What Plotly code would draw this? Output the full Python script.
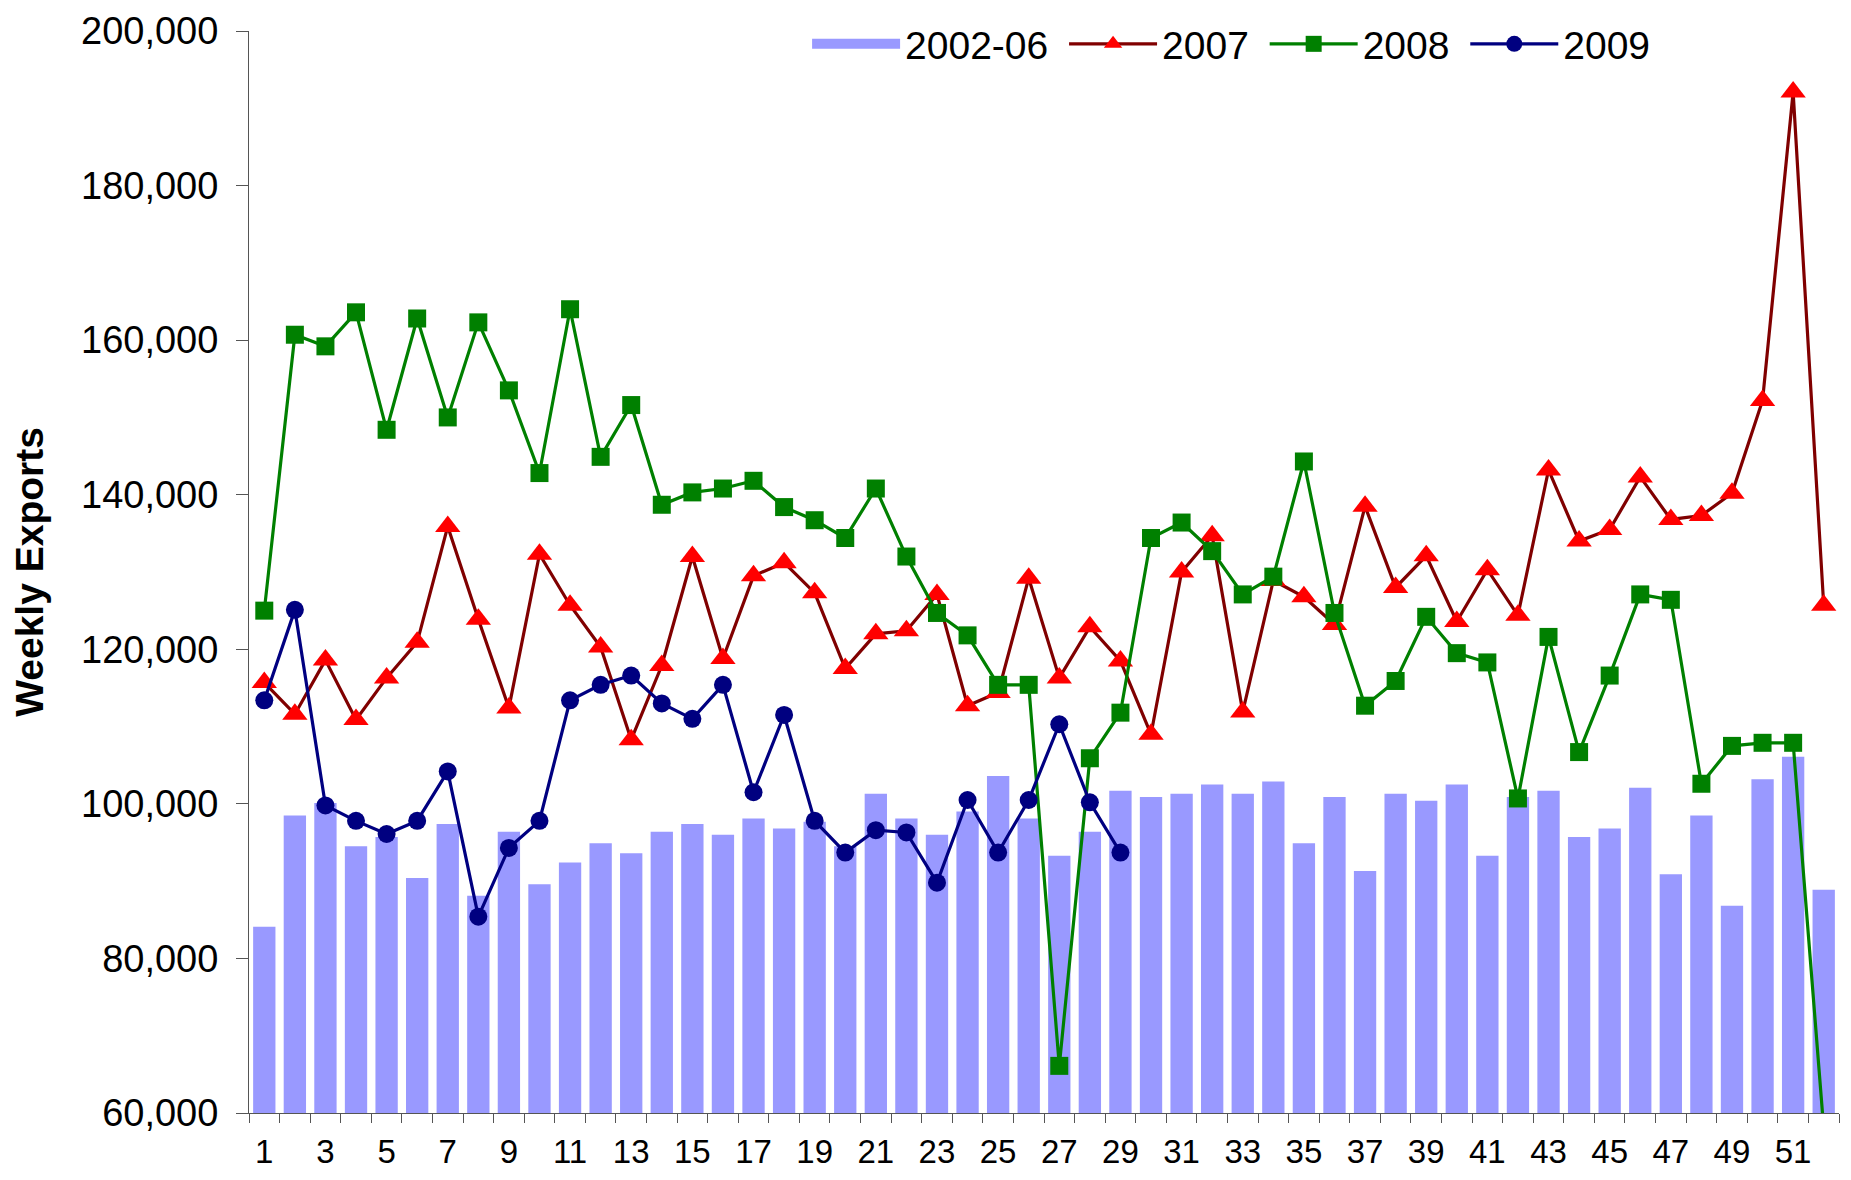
import plotly.graph_objects as go

weeks = list(range(1, 53))

avg_2002_06 = [84.1, 98.5, 100.1, 94.5, 95.7, 90.4, 97.4, 88.1, 96.4, 89.6,
               92.4, 94.9, 93.6, 96.4, 97.4, 96.0, 98.1, 96.8, 97.7, 94.5,
               101.3, 98.1, 96.0, 99.0, 103.6, 98.1, 93.3, 96.4, 101.7, 100.9,
               101.3, 102.5, 101.3, 102.9, 94.9, 100.9, 91.3, 101.3, 100.4, 102.5,
               93.3, 100.9, 101.7, 95.7, 96.8, 102.1, 90.9, 98.5, 86.8, 103.2,
               106.1, 88.9]

y2007 = [115.7, 111.6, 118.6, 110.9, 116.3, 120.9, 135.9, 123.9, 112.4, 132.3,
         125.7, 120.3, 108.3, 117.9, 132.0, 118.8, 129.5, 131.2, 127.3, 117.5,
         122.0, 122.4, 127.1, 112.7, 114.4, 129.2, 116.3, 122.9, 118.5, 109.0,
         130.0, 134.7, 111.9, 128.9, 126.8, 123.2, 138.5, 128.0, 132.1, 123.6,
         130.3, 124.4, 143.2, 134.0, 135.5, 142.3, 136.8, 137.3, 140.2, 152.2,
         192.1, 125.7]

y2008 = [125.0, 160.7, 159.2, 163.6, 148.4, 162.8, 150.0, 162.3, 153.5, 142.8,
         164.0, 144.9, 151.6, 138.7, 140.3, 140.8, 141.8, 138.4, 136.7, 134.4,
         140.8, 132.0, 124.7, 121.8, 115.4, 115.4, 66.1, 105.9, 111.8, 134.4,
         136.4, 132.7, 127.1, 129.4, 144.3, 124.7, 112.7, 115.9, 124.2, 119.5,
         118.3, 100.7, 121.6, 106.7, 116.6, 127.1, 126.4, 102.6, 107.5, 107.9,
         107.9, 58.0]

y2009 = [113.4, 125.1, 99.8, 97.8, 96.1, 97.8, 104.2, 85.4, 94.3, 97.8,
         113.4, 115.4, 116.6, 113.0, 111.0, 115.4, 101.5, 111.5, 97.8, 93.7,
         96.6, 96.3, 89.8, 100.5, 93.7, 100.5, 110.3, 100.2, 93.7]

series_names = ["2002-06", "2007", "2008", "2009"]
x_tick_vals = list(range(1, 52, 2))
y_tick_vals = [60000, 80000, 100000, 120000, 140000, 160000, 180000, 200000]

def k(vals):
    return [v * 1000 for v in vals]

FONT = "Liberation Sans, Arial, Helvetica, sans-serif"
NB = "\u00a0"
BAR_COLOR = "#9999FF"

fig = go.Figure()
fig.add_trace(go.Bar(x=weeks, y=k(avg_2002_06), name=series_names[0],
                     marker=dict(color=BAR_COLOR, line=dict(width=0)),
                     width=0.73, showlegend=False))
# legend-only entry for the bars (wide swatch)
fig.add_trace(go.Scatter(x=[None], y=[None], name=series_names[0] + NB, mode="lines",
                         line=dict(color=BAR_COLOR, width=25), hoverinfo="skip"))
fig.add_trace(go.Scatter(x=weeks, y=k(y2007), name=series_names[1] + NB, mode="lines+markers",
                         line=dict(color="#800000", width=3.2),
                         marker=dict(symbol="triangle-up", size=22, color="#FF0000")))
fig.add_trace(go.Scatter(x=weeks, y=k(y2008), name=series_names[2] + NB, mode="lines+markers",
                         line=dict(color="#008000", width=3.2),
                         marker=dict(symbol="square", size=18, color="#008000")))
fig.add_trace(go.Scatter(x=weeks[:len(y2009)], y=k(y2009), name=series_names[3], mode="lines+markers",
                         line=dict(color="#000080", width=3.2),
                         marker=dict(symbol="circle", size=18, color="#000080")))

fig.update_layout(
    width=1851, height=1180,
    margin=dict(l=249, r=12, t=25, b=67),
    plot_bgcolor="white", paper_bgcolor="white",
    font=dict(family=FONT, color="black"),
    showlegend=True,
    legend=dict(orientation="h", x=0.351, xanchor="left", y=0.988, yanchor="middle",
                font=dict(size=39, family=FONT), itemwidth=88,
                bgcolor="rgba(255,255,255,0)", traceorder="normal"),
    bargap=0.27,
)

fig.update_xaxes(
    range=[0.5, 52.5], tickmode="array", tickvals=x_tick_vals,
    ticktext=[str(v) for v in x_tick_vals],
    ticks="", showgrid=False, zeroline=False, automargin=False,
    showline=True, linecolor="#555555", linewidth=1,
    tickfont=dict(size=33, family=FONT), ticklabelstandoff=9,
    minor=dict(tickvals=[i + 0.5 for i in range(0, 53)], ticks="outside",
               ticklen=9, tickcolor="#555555", tickwidth=1, showgrid=False),
)
fig.update_yaxes(
    range=[60000, 200000], tickmode="array", tickvals=y_tick_vals,
    tickformat=",", ticks="outside", ticklen=12, tickcolor="#555555",
    showgrid=False, zeroline=False, automargin=False,
    showline=True, linecolor="#555555", linewidth=1,
    tickfont=dict(size=38, family=FONT), ticklabelstandoff=10,
    title=dict(text="<b>Weekly Exports</b>", font=dict(size=39, family=FONT), standoff=25),
)

fig.write_html("out.html", config={"displayModeBar": False},
               post_script="document.body.style.margin='0';document.body.style.overflow='hidden';")
